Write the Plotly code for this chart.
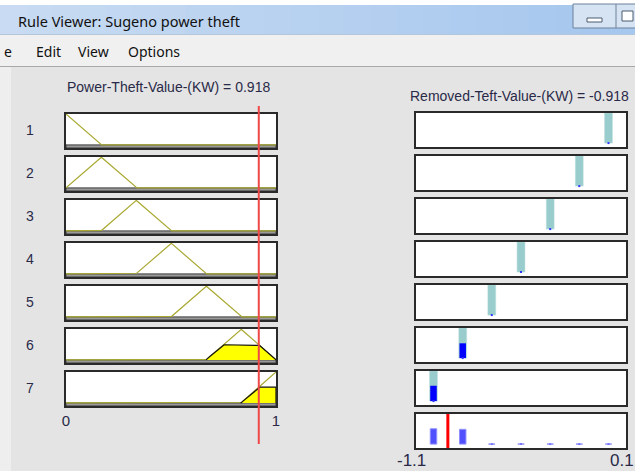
import numpy as np
import plotly.graph_objects as go

W, H = 635, 471

# ---------------- data ----------------
window_title = "Rule Viewer: Sugeno power theft"
menu_items = ["e", "Edit", "View", "Options"]
input_name = "Power-Theft-Value-(KW)"
output_name = "Removed-Teft-Value-(KW)"
input_value = 0.918
output_value = -0.918
rule_ids = ["1", "2", "3", "4", "5", "6", "7"]
mf_left = [-0.167, 0.0, 0.167, 0.333, 0.5, 0.667, 0.833]
mf_peak = [0.0, 0.167, 0.333, 0.5, 0.667, 0.833, 1.0]
mf_right = [0.167, 0.333, 0.5, 0.667, 0.833, 1.0, 1.167]
rule_outputs = [0.0, -0.167, -0.333, -0.5, -0.667, -0.833, -1.0]
input_range = [0, 1]
input_tick_labels = ["0", "1"]
output_range = [-1.1, 0.1]
output_tick_labels = ["-1.1", "0.1"]

# ---------------- helpers ----------------
def fx(xpx):
    return xpx / W

def fy(ypx):
    return 1 - ypx / H

TXT = "#2a2a48"
FONT = "Liberation Sans, Arial, sans-serif"
UIFONT = "Noto Sans, Open Sans, sans-serif"

n = len(rule_ids)
xs = np.linspace(input_range[0], input_range[1], 601)
mus = []
strengths = []
for a, b, c in zip(mf_left, mf_peak, mf_right):
    mu = np.clip(np.minimum((xs - a) / (b - a), (c - xs) / (c - b)), 0, 1)
    mus.append(mu)
    w = max(0.0, min((input_value - a) / (b - a), (c - input_value) / (c - b)))
    strengths.append(w)

fig = go.Figure()
layout = dict(
    width=W, height=H, margin=dict(l=0, r=0, t=0, b=0, autoexpand=False),
    paper_bgcolor="#e4e4e4", plot_bgcolor="white",
    showlegend=False, barmode="overlay",
)
annotations = []

ROW0, STEP, PH = 114, 43, 34
LX0, LX1 = 66, 276
RX0, RX1 = 416, 626
RROW0 = 113

def axis_cfg(dom, rng, anchor):
    return dict(domain=dom, range=rng, showgrid=False, zeroline=False,
                showticklabels=False, ticks="", showline=True, mirror=True,
                linecolor="#2a2a2a", linewidth=1.5, fixedrange=True, anchor=anchor,
                automargin=False)

# left panels (input membership functions)
for i in range(n):
    k = i + 1
    top = ROW0 + STEP * i
    xa = "x" if k == 1 else f"x{k}"
    ya = "y" if k == 1 else f"y{k}"
    layout["xaxis" if k == 1 else f"xaxis{k}"] = axis_cfg([fx(LX0), fx(LX1)], input_range, ya)
    layout["yaxis" if k == 1 else f"yaxis{k}"] = axis_cfg([fy(top + PH), fy(top)], [-0.1, 1.0], xa)
    # bottom strip (zero-height patch edge)
    fig.add_trace(go.Scatter(x=[0, 1, 1, 0, 0], y=[-0.1, -0.1, 0, 0, -0.1], fill="toself",
                             fillcolor="#9a9a9a", line=dict(color="#3a3a3a", width=1),
                             mode="lines", xaxis=xa, yaxis=ya, hoverinfo="skip"))
    # membership function
    fig.add_trace(go.Scatter(x=xs, y=mus[i], mode="lines",
                             line=dict(color="#a8a830", width=1.2),
                             xaxis=xa, yaxis=ya, hoverinfo="skip"))
    # clipped patch
    if strengths[i] > 0:
        clipped = np.minimum(mus[i], strengths[i])
        idx = np.where(clipped > 0)[0]
        lo, hi = max(idx[0] - 1, 0), min(idx[-1] + 1, len(xs) - 1)
        cx = xs[lo:hi + 1]
        cy = clipped[lo:hi + 1]
        fig.add_trace(go.Scatter(x=np.concatenate([cx, [cx[-1]]]), y=np.concatenate([cy, [0]]),
                                 fill="tozeroy", fillcolor="#ffff00",
                                 line=dict(color="#111111", width=1.2), mode="lines",
                                 xaxis=xa, yaxis=ya, hoverinfo="skip"))
    annotations.append(dict(
        text=rule_ids[i], x=fx(30), y=fy(top + PH / 2 - 1.5), xref="paper", yref="paper",
        xanchor="center", yanchor="middle",
        showarrow=False, font=dict(size=14, color=TXT, family=FONT)))

# left tick labels on last row
layout[f"xaxis{n}"].update(showticklabels=True, tickvals=input_range,
                           ticktext=input_tick_labels,
                           tickfont=dict(size=15, color=TXT, family=FONT))

# right panels (rule outputs + aggregate)
for j in range(n + 1):
    k = n + 1 + j
    top = RROW0 + STEP * j
    xa, ya = f"x{k}", f"y{k}"
    layout[f"xaxis{k}"] = axis_cfg([fx(RX0), fx(RX1)], output_range, ya)
    layout[f"yaxis{k}"] = axis_cfg([fy(top + PH), fy(top)], [-0.13, 1.0], xa)
    if j < n:
        v, w = rule_outputs[j], strengths[j]
        fig.add_trace(go.Bar(x=[v], y=[1.0], width=0.045,
                             marker=dict(color="#99cccc", line=dict(color="#b8dede", width=0.5)),
                             xaxis=xa, yaxis=ya, hoverinfo="skip"))
        if w > 0:
            fig.add_trace(go.Bar(x=[v], y=[w], width=0.037, marker=dict(color="#0000ff", line=dict(width=0)),
                                 xaxis=xa, yaxis=ya, hoverinfo="skip"))
        fig.add_trace(go.Scatter(x=[v], y=[0], mode="markers",
                                 marker=dict(color="#3333ff", size=2, symbol="square"),
                                 xaxis=xa, yaxis=ya, hoverinfo="skip"))
    else:
        fig.add_trace(go.Bar(x=rule_outputs, y=strengths, width=0.037,
                             marker=dict(color="#5050ff", line=dict(color="#9090ff", width=1)),
                             xaxis=xa, yaxis=ya, hoverinfo="skip"))
        zero_x = [v for v, w in zip(rule_outputs, strengths) if w == 0]
        fig.add_trace(go.Scatter(x=zero_x, y=[0] * len(zero_x), mode="markers",
                                 marker=dict(color="#7777ff", size=2, symbol="square"),
                                 xaxis=xa, yaxis=ya, hoverinfo="skip"))
        fig.add_trace(go.Scatter(x=[output_value, output_value], y=[-0.13, 1.0], mode="lines",
                                 line=dict(color="#ff0000", width=3),
                                 xaxis=xa, yaxis=ya, hoverinfo="skip"))
        # output range labels placed under the aggregate axis ends
        for val, lab, dx in zip(output_range, output_tick_labels, [-5, -4.5]):
            annotations.append(dict(text=lab, xref=xa, x=val, xshift=dx,
                                    yref="paper", y=fy(460.5), xanchor="center", yanchor="middle",
                                    showarrow=False, font=dict(size=17, color=TXT, family=FONT)))

# titles
annotations.append(dict(text=f"{input_name} = {input_value}", xref="paper", x=fx(168),
                        yref="paper", y=fy(87), xanchor="center", yanchor="middle", showarrow=False,
                        font=dict(size=14, color=TXT, family=FONT)))
annotations.append(dict(text=f"{output_name} = {output_value}", xref="paper", x=fx(519),
                        yref="paper", y=fy(95.5), xanchor="center", yanchor="middle", showarrow=False,
                        font=dict(size=14, color=TXT, family=FONT)))

# window title + menu
annotations.append(dict(text=window_title, xref="paper", yref="paper", x=fx(16), y=fy(21),
                        xanchor="left", yanchor="middle", showarrow=False,
                        font=dict(size=14.5, color="#111111", family=UIFONT)))
menu_x = [2, 34, 76, 126]
for label, mx in zip(menu_items, menu_x):
    annotations.append(dict(text=label, xref="paper", yref="paper", x=fx(mx), y=fy(52),
                            xanchor="left", yanchor="middle", showarrow=False,
                            font=dict(size=14, color="#111111", family=UIFONT)))

layout["annotations"] = annotations
fig.update_layout(**layout)

# input red line across left panels
fig.add_shape(type="line", xref="x", x0=input_value, x1=input_value,
              yref="paper", y0=fy(444), y1=fy(106), line=dict(color="#f04848", width=2))

# ---------------- window chrome ----------------
def rect(x0, y0, x1, y1, fill, line=None, lw=0):
    fig.add_shape(type="rect", xref="paper", yref="paper", x0=fx(x0), x1=fx(x1),
                  y0=fy(y1), y1=fy(y0), fillcolor=fill, layer="below",
                  line=dict(color=line or fill, width=lw))

rect(0, 0, W, 5, "#ffffff")
c0 = np.array([200, 219, 242])
c1 = np.array([166, 199, 238])
nstrip = 24
for s in range(nstrip):
    t = s / (nstrip - 1)
    c = (c0 * (1 - t) + c1 * t).astype(int)
    rect(W * s / nstrip, 5, W * (s + 1) / nstrip + 1, 34, "rgb(%d,%d,%d)" % tuple(c))
rect(0, 34, W, 35, "#b4c6da")
rect(0, 35, W, 66, "#f0f0f0")
rect(0, 66, W, 67, "#a8a8a8")
rect(0, 67, 11, H, "#eeeeee")

# window buttons
fig.add_shape(type="rect", xref="paper", yref="paper", x0=fx(573), x1=fx(645), y0=fy(28), y1=fy(4),
              fillcolor="#d6e3f2", line=dict(color="#6d819c", width=1))
fig.add_shape(type="line", xref="paper", yref="paper", x0=fx(616), x1=fx(616), y0=fy(28), y1=fy(4),
              line=dict(color="#6d819c", width=1))
fig.add_shape(type="rect", xref="paper", yref="paper", x0=fx(587), x1=fx(602), y0=fy(22), y1=fy(18),
              fillcolor="#ffffff", line=dict(color="#4a5a70", width=1))
fig.add_shape(type="rect", xref="paper", yref="paper", x0=fx(622), x1=fx(633), y0=fy(21), y1=fy(11),
              fillcolor="#ffffff", line=dict(color="#4a5a70", width=1))

fig.write_html("out.html", config={"displayModeBar": False},
               post_script="document.body.style.margin='0px';document.body.style.overflow='hidden';")
